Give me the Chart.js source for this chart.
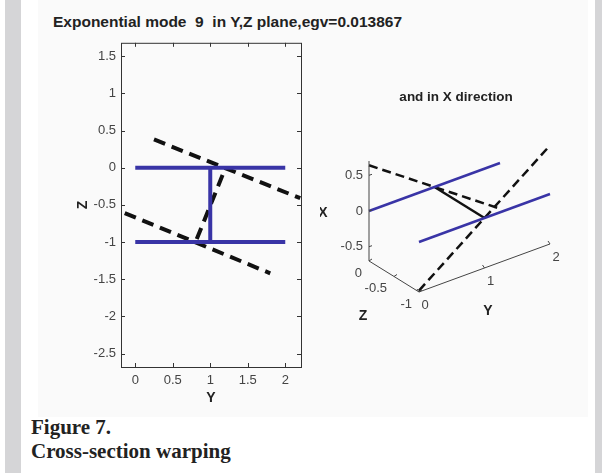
<!DOCTYPE html>
<html>
<head>
<meta charset="utf-8">
<script src="https://cdn.jsdelivr.net/npm/chart.js@4.4.1/dist/chart.umd.min.js"></script>
<style>
  html, body { margin: 0; padding: 0; background: #fff; }
  body { width: 602px; height: 473px; position: relative; overflow: hidden; font-family: "Liberation Sans", Arial, sans-serif; }
  .strip { position: absolute; top: 0; height: 473px; background: #d5d5d7; }
  #panel { position: absolute; left: 38px; top: 0; width: 550px; height: 417px; background: #fafafa; }
  #title { position: absolute; left: 53px; top: 13px; font-weight: bold; font-size: 15.5px; color: #222; white-space: pre; }
  #cap { position: absolute; left: 31px; top: 415px; font-family: "Liberation Serif", "Times New Roman", serif; font-weight: bold; font-size: 21px; line-height: 24px; color: #222; }
  canvas { position: absolute; }
</style>
</head>
<body>
<div class="strip" style="left:5px;width:16px"></div>
<div class="strip" style="left:595px;width:7px"></div>
<div id="panel"></div>
<div id="title">Exponential mode  9  in Y,Z plane,egv=0.013867</div>
<div id="cap">Figure 7.<br>Cross-section warping</div>
<div style="position:absolute;left:60px;top:30px;width:260px;height:380px"><canvas id="left"></canvas></div>
<div style="position:absolute;left:320px;top:80px;width:270px;height:250px"><canvas id="right"></canvas></div>
<script>
// ---- section in the Y,Z plane (undeformed) ----
const flangeTopY = [0, 2], flangeTopZ = [0, 0];
const flangeBotY = [0, 2], flangeBotZ = [-1, -1];
const webY = [1, 1], webZ = [0, -1];
// ---- deformed shape (dashed) ----
const defTopY = [0.25, 2.2], defTopZ = [0.38, -0.41];
const defBotY = [-0.14, 1.8], defBotZ = [-0.61, -1.42];
const defWebY = [0.82, 1.2], defWebZ = [-0.96, -0.01];
// ticks of the left plot
const yTicks = [0, 0.5, 1, 1.5, 2];
const zTicks = [-2.5, -2, -1.5, -1, -0.5, 0, 0.5, 1, 1.5];

// ---- warping in X direction (3D) ----
const wTopY = [0, 2], wTopZ = [0, 0], wTopX = [0.64, -0.64];
const wBotY = [0, 2], wBotZ = [-1, -1], wBotX = [-0.68, 0.68];
const xTicks3 = [-0.5, 0, 0.5];
const zTicks3 = [0, -0.5, -1];
const yTicks3 = [0, 1, 2];
const xLim3 = [-0.7, 0.7];

const BLUE = '#3934a6';
const TICKFONT = { size: 13, family: 'Liberation Sans' };

function pts(xs, ys) { return xs.map((v, i) => ({x: v, y: ys[i]})); }

function lineSet(data, color, width, dash) {
  return { data, showLine: true, borderColor: color, borderWidth: width, borderDash: dash || [],
    pointRadius: 0, fill: false, borderCapStyle: 'butt' };
}

const boxTicks = {
  id: 'boxTicks',
  afterDraw(chart) {
    const {ctx, chartArea: a, scales} = chart;
    ctx.save();
    ctx.strokeStyle = '#333';
    ctx.lineWidth = 1;
    ctx.strokeRect(a.left + 0.5, a.top + 0.5, a.right - a.left, a.bottom - a.top);
    ctx.beginPath();
    yTicks.forEach(v => {
      const px = Math.round(scales.x.getPixelForValue(v)) + 0.5;
      ctx.moveTo(px, a.bottom); ctx.lineTo(px, a.bottom - 4);
      ctx.moveTo(px, a.top); ctx.lineTo(px, a.top + 4);
    });
    zTicks.forEach(v => {
      const py = Math.round(scales.y.getPixelForValue(v)) + 0.5;
      ctx.moveTo(a.left, py); ctx.lineTo(a.left + 4, py);
      ctx.moveTo(a.right, py); ctx.lineTo(a.right - 4, py);
    });
    ctx.stroke();
    ctx.restore();
  }
};

new Chart(document.getElementById('left'), {
  type: 'scatter',
  data: { datasets: [
    lineSet(pts(flangeTopY, flangeTopZ), BLUE, 4),
    lineSet(pts(flangeBotY, flangeBotZ), BLUE, 4),
    lineSet(pts(webY, webZ), BLUE, 4),
    lineSet(pts(defTopY, defTopZ), '#111', 4, [12, 7]),
    lineSet(pts(defBotY, defBotZ), '#111', 4, [12, 7]),
    lineSet(pts(defWebY, defWebZ), '#111', 4, [12, 7]),
  ]},
  options: {
    responsive: true, maintainAspectRatio: false, animation: false,
    layout: { padding: { top: 11, right: 19, left: 0, bottom: 0 } },
    plugins: { legend: { display: false }, tooltip: { enabled: false } },
    scales: {
      x: {
        type: 'linear', min: -0.19, max: 2.21,
        afterBuildTicks: s => { s.ticks = yTicks.map(v => ({value: v})); },
        afterFit: s => { s.height = 43; },
        grid: { display: false, drawTicks: false }, border: { display: false },
        ticks: { padding: 6, color: '#444', font: TICKFONT, callback: v => String(v), maxRotation: 0 },
        title: { display: true, text: 'Y', color: '#222', font: { size: 14, weight: 'bold', family: 'Liberation Sans' }, padding: { top: 0, bottom: 3 } }
      },
      y: {
        type: 'linear', min: -2.68, max: 1.68,
        afterBuildTicks: s => { s.ticks = zTicks.map(v => ({value: v})); },
        afterFit: s => { s.width = 61; },
        grid: { display: false, drawTicks: false }, border: { display: false },
        ticks: { padding: 5, color: '#444', font: TICKFONT, callback: v => String(v) },
        title: { display: true, text: 'Z', color: '#222', font: { size: 14, weight: 'bold', family: 'Liberation Sans' }, padding: { top: 15, bottom: 0 } }
      }
    }
  },
  plugins: [boxTicks]
});

// simple fixed view projection of (Y, Z, X) onto the page
function proj(Y, Z, X) { return { x: 65.5 * Y - 50 * Z, y: 24 * Y + 31 * Z + 71.4 * X }; }
function pts3(ys, zs, xs) { return ys.map((v, i) => proj(v, zs[i], xs[i])); }

const axes3 = {
  id: 'axes3',
  afterDraw(chart) {
    const {ctx, scales} = chart;
    const P = (Y, Z, X) => { const p = proj(Y, Z, X); return [scales.x.getPixelForValue(p.x), scales.y.getPixelForValue(p.y)]; };
    ctx.save();
    ctx.strokeStyle = '#444';
    ctx.lineWidth = 1;
    ctx.beginPath();
    xTicks3.forEach(v => { const [x, y] = P(0, 0, v); ctx.moveTo(x, y); ctx.lineTo(x + 3, y - 1); });
    zTicks3.forEach(v => { const [x, y] = P(0, v, xLim3[0]); ctx.moveTo(x, y); ctx.lineTo(x + 3, y - 2); });
    yTicks3.forEach(v => { const [x, y] = P(v, -1, xLim3[0]); ctx.moveTo(x, y); ctx.lineTo(x - 2, y - 3); });
    ctx.stroke();
    ctx.fillStyle = '#444';
    ctx.font = '13px "Liberation Sans"';
    ctx.textBaseline = 'middle';
    ctx.textAlign = 'right';
    xTicks3.forEach(v => { const [x, y] = P(0, 0, v); ctx.fillText(String(v), x - 6, y); });
    zTicks3.forEach(v => { const [x, y] = P(0, v, xLim3[0]); ctx.fillText(String(v), x - 7, y + 12); });
    ctx.textAlign = 'center';
    yTicks3.forEach(v => { const [x, y] = P(v, -1, xLim3[0]); ctx.fillText(String(v), x + 6, y + 13); });
    ctx.fillStyle = '#222';
    ctx.font = 'bold 14px "Liberation Sans"';
    ctx.fillText('X', 3, 133);
    ctx.fillText('Z', 43, 236);
    ctx.fillText('Y', 168, 231);
    ctx.font = 'bold 13.5px "Liberation Sans"';
    ctx.fillText('and in X direction', chart.width / 2 + 1, 17);
    ctx.restore();
  }
};

new Chart(document.getElementById('right'), {
  type: 'scatter',
  data: { datasets: [
    lineSet(pts3([0, 0], [0, 0], xLim3), '#444', 1),
    lineSet(pts3([0, 0], [0, -1], [xLim3[0], xLim3[0]]), '#444', 1),
    lineSet(pts3([0, 2], [-1, -1], [xLim3[0], xLim3[0]]), '#444', 1),
    lineSet(pts3(flangeTopY, flangeTopZ, [0, 0]), BLUE, 2.5),
    lineSet(pts3(flangeBotY, flangeBotZ, [0, 0]), BLUE, 2.5),
    lineSet(pts3(webY, webZ, [0, 0]), '#111', 2.5),
    lineSet(pts3(wTopY, wTopZ, wTopX), '#111', 2.5, [9, 5]),
    lineSet(pts3(wBotY, wBotZ, wBotX), '#111', 2.5, [9, 5]),
  ]},
  options: {
    responsive: true, maintainAspectRatio: false, animation: false,
    layout: { padding: 0 },
    plugins: { legend: { display: false }, tooltip: { enabled: false } },
    scales: {
      x: { type: 'linear', min: -49, max: 221, display: false },
      y: { type: 'linear', min: -119, max: 131, display: false }
    }
  },
  plugins: [axes3]
});
</script>
</body>
</html>
